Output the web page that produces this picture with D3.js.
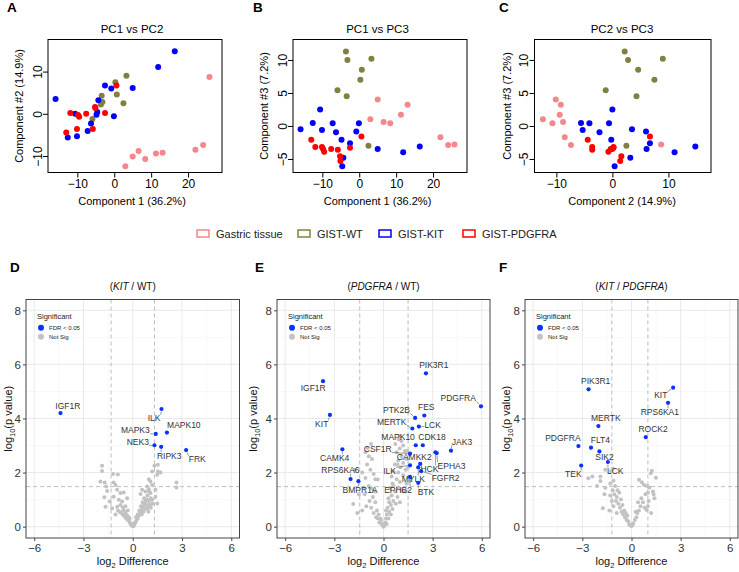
<!DOCTYPE html>
<html><head><meta charset="utf-8">
<script src="https://cdn.jsdelivr.net/npm/d3@7"></script>
<style>body{margin:0;background:#fff}svg{display:block}text{font-family:"Liberation Sans",Arial,Helvetica,sans-serif}</style>
</head><body><svg id="c" width="739" height="572"></svg>
<script>
// ================= DATA =================
// PCA: each sample = [PC1, PC2, PC3]
const pcGroups = ["Gastric tissue", "GIST-WT", "GIST-KIT", "GIST-PDGFRA"];
const pcColors = ["#F4878A", "#808040", "#0000FF", "#FF0000"];
const gastricPC = [[25.8,8.7,-2.8],[22.0,-8.5,-1.7],[24.1,-7.4,-2.9],[5.0,-10.1,4.0],[13.1,-9.2,3.2],[11.3,-9.4,1.7],[3.0,-12.4,1.0],[6.6,-8.8,0.6],[8.4,-10.7,0.4]];
const wtPC = [[-3.6,2.2,11.3],[-3.2,2.8,10.0],[3.3,9.0,10.2],[0.7,4.6,8.5],[0.3,7.5,7.0],[-5.9,-1.2,5.4],[-3.4,4.3,4.5],[2.5,2.5,-3.0]];
const kitPC = [[16.4,14.8,-3.1],[11.9,11.1,-4.0],[-15.9,3.5,-0.5],[5.0,6.1,-3.5],[-2.5,6.7,-2.6],[-0.8,6.0,-0.85],[-4.3,3.2,-4.8],[-10.6,0.0,2.5],[-4.6,0.4,-6.1],[-4.8,-0.2,-2.1],[-0.1,-0.6,0.4],[-6.3,-2.3,-0.95],[-7.2,-4.1,0.4],[-12.6,-5.6,0.45],[-10.1,-5.3,-0.6]];
const pdgfraPC = [[0.6,6.7,-1.6],[-13.0,-4.4,-2.1],[-11.9,0.2,-3.2],[-10.1,-3.6,-3.2],[-9.5,-0.7,-3.9],[-9.8,-0.3,-3.5],[-5.8,-3.6,-3.6],[-7.6,0.0,-3.5],[-5.2,1.6,-4.6],[-5.1,1.4,-5.3],[-2.5,0.2,-3.3]];
const pcVariance = [36.2, 14.9, 7.2];
const pcTicks = [[-10,0,10,20],[-10,0,10],[-5,0,5,10]];

// Volcano D: KIT / WT
const kitWtGenes = ["IGF1R","ILK","MAPK10","MAPK3","NEK3","RIPK3","FRK"];
const kitWtDiff = [-4.40,1.75,2.08,1.40,1.32,1.73,3.25];
const kitWtLogP = [4.20,4.35,3.48,3.43,3.01,2.95,2.83];
const kitWtLabelAt = [[-3.95,4.47],[1.30,4.01],[3.11,3.77],[0.16,3.56],[0.31,3.12],[2.22,2.63],[3.93,2.49]];
const kitWtNS = [[-1.87,2.25],[-1.87,2.06],[-1.2,1.95],[-0.91,1.93],[-1.97,1.67],[-1.71,1.63],[-1.62,1.48],[-1.16,1.63],[-1.05,1.54],[-1.56,1.32],[-0.95,1.36],[-0.75,1.24],[-1.73,1.09],[-1.16,1.11],[-0.55,1.26],[-0.85,0.99],[-1.4,0.93],[-1.66,0.74],[-1.26,0.68],[-0.95,0.74],[-0.75,0.8],[-0.65,0.93],[-0.34,1.05],
[-0.9,0.6],[-0.8,0.55],[-0.7,0.5],[-0.6,0.45],[-0.55,0.6],[-0.5,0.38],[-0.45,0.5],[-0.4,0.3],[-0.35,0.42],[-0.3,0.25],[-0.25,0.35],[-0.2,0.18],[-0.15,0.12],[-0.1,0.08],[-0.05,0.04],[-0.6,0.7],[-0.45,0.75],[-1.05,0.45],[-0.3,0.6],[-0.2,0.3],
[1.32,2.25],[1.53,2.29],[1.18,2.04],[1.53,2.04],[1.69,2.0],[1.49,1.92],[0.98,1.75],[1.08,1.67],[0.88,1.48],[1.18,1.54],[0.57,1.36],[0.77,1.3],[0.98,1.38],[0.47,1.21],[1.08,1.24],[1.38,1.36],[2.66,1.63],[2.66,1.45],[1.38,1.11],[1.18,0.99],[1.04,0.8],[1.49,0.86],[0.88,0.68],
[0.1,0.08],[0.15,0.15],[0.2,0.2],[0.25,0.28],[0.3,0.3],[0.35,0.4],[0.4,0.45],[0.45,0.5],[0.5,0.55],[0.55,0.62],[0.6,0.7],[0.65,0.75],[0.7,0.8],[0.75,0.9],[0.8,0.95],[0.85,1.0],[0.3,0.45],[0.4,0.6],[0.5,0.75],[0.6,0.9],[0.7,1.05],[0.55,0.45],[0.65,0.55],[0.8,0.65],[0.9,0.8],[1.0,0.95],[1.1,1.05],[0.2,0.35],[0.05,0.02],[0,0.01],[-0.02,0.05],[0.02,0.1],[0.9,1.15],[1.0,1.3],[0.95,0.55],[1.1,0.7],[1.2,0.85]];

// Volcano E: PDGFRA / WT
const pdgWtGenes = ["IGF1R","KIT","CAMK4","RPS6KA6","BMPR1A","PIK3R1","PDGFRA","PTK2B","FES","MERTK","LCK","MAPK10","CDK18","JAK3","CSF1R","HCK","EPHA3","CAMKK2","ILK","FGFR2","MYLK","EPHB2","BTK"];
const pdgWtDiff = [-3.69,-3.27,-2.51,-2.01,-1.53,2.59,5.95,1.93,2.49,1.76,2.16,1.97,2.40,4.12,1.62,3.17,3.25,2.24,1.62,2.30,2.12,1.62,2.12];
const pdgWtLogP = [5.38,4.13,2.86,1.76,1.68,5.67,4.45,4.02,4.11,3.63,3.70,3.01,3.01,2.81,2.70,2.75,2.72,2.32,2.27,2.05,2.19,1.84,1.62];
const pdgWtLabelAt = [[-4.29,5.13],[-3.77,3.80],[-2.98,2.54],[-2.63,2.08],[-1.43,1.36],[3.07,5.96],[4.56,4.76],[0.79,4.32],[2.61,4.41],[0.50,3.88],[3.0,3.77],[0.89,3.32],[2.96,3.32],[4.79,3.13],[-0.35,2.87],[2.80,2.14],[4.15,2.26],[1.88,2.56],[0.37,2.06],[3.79,1.80],[1.82,1.76],[0.89,1.36],[2.59,1.29]];
const pdgWtNS = [[-0.76,3.06],[-0.97,2.91],[-1.1,2.75],[-0.9,2.6],[-0.7,2.5],[-1.0,2.3],[-1.3,2.0],[-1.75,2.1],[-0.8,2.1],[-0.6,1.95],[-1.1,1.8],[-0.5,1.75],[-0.35,1.74],[-0.9,1.5],[-1.2,1.45],[-0.7,1.4],[-1.5,1.2],[-1.15,1.2],[-0.55,1.3],[-1.85,0.84],[-1.05,0.75],[-0.85,0.95],[-0.65,1.1],[-1.3,0.6],[-0.75,0.7],[-0.5,0.9],[-0.4,0.6],[-0.6,0.5],[-0.3,0.45],[-0.45,0.35],[-0.2,0.3],[-0.25,0.15],[-0.1,0.1],[-0.15,0.25],[-0.35,0.3],[-0.05,0.05],[-1.6,0.5],
[0.99,3.35],[0.93,3.22],[0.72,3.06],[1.1,3.17],[0.99,2.89],[1.2,3.0],[1.3,2.8],[0.8,2.75],[1.1,2.6],[1.4,2.5],[0.9,2.45],[1.2,2.35],[0.7,2.3],[1.05,2.2],[1.35,2.1],[0.6,2.05],[0.9,2.0],[1.2,1.9],[0.5,1.85],[0.8,1.75],[1.0,1.65],[1.4,1.6],[0.6,1.5],[0.9,1.45],[0.4,1.4],[0.7,1.3],[1.1,1.35],[0.5,1.15],[0.85,1.1],[0.3,1.05],[0.6,0.95],[0.45,0.8],[0.75,0.85],[0.25,0.7],[0.55,0.65],[0.35,0.55],[0.2,0.45],[0.45,0.45],[0.15,0.3],[0.3,0.3],[0.1,0.15],[0.2,0.1],[0.05,0.05],[0.0,0.0],[0.02,0.02],[-0.02,0.03],[1.6,1.7],[1.5,2.2],[1.3,1.3],[1.0,0.9],[0.15,0.6],[0.35,0.9],[0.55,1.6],[0.85,2.3],[1.45,2.8]];

// Volcano F: KIT / PDGFRA
const kitPdgGenes = ["PIK3R1","KIT","RPS6KA1","MERTK","ROCK2","PDGFRA","FLT4","SIK2","LCK","TEK"];
const kitPdgDiff = [-2.62,2.54,2.23,-2.02,0.87,-3.24,-2.47,-1.96,-1.44,-3.07];
const kitPdgLogP = [5.08,5.14,4.58,3.72,3.31,2.98,2.92,2.78,2.39,2.26];
const kitPdgLabelAt = [[-2.19,5.38],[1.79,4.86],[1.73,4.25],[-1.57,4.0],[1.32,3.61],[-4.19,3.27],[-1.90,3.21],[-1.65,2.56],[-0.99,2.06],[-3.55,1.94]];
const kitPdgNS = [[-2.64,1.79],[-2.39,1.85],[-1.9,1.85],[-1.9,1.69],[-1.6,2.1],[-1.25,2.05],[-1.15,2.15],[-2.1,1.5],[-1.6,1.44],[-1.3,1.6],[-1.15,1.35],[-1.0,1.5],[-1.65,1.2],[-1.3,1.15],[-1.05,1.2],[-0.9,1.1],[-1.2,0.95],[-0.95,0.95],[-0.8,0.85],[-1.75,0.68],[-1.35,0.6],[-1.1,0.75],[-0.7,0.7],[-0.6,0.55],[-0.9,0.5],[-0.5,0.45],[-0.4,0.35],[-0.3,0.25],[-0.2,0.2],[-0.15,0.1],[-0.1,0.05],[-0.65,1.0],[-0.55,0.8],[-0.45,0.6],[-0.35,0.5],[-0.25,0.4],[-0.75,1.25],[-1.1,1.7],[-0.85,1.35],
[1.24,2.07],[1.18,1.97],[1.49,1.81],[0.46,1.73],[0.63,1.64],[0.75,1.55],[0.95,1.5],[1.1,1.45],[1.31,1.3],[1.35,1.2],[1.4,1.05],[0.85,1.2],[1.0,1.25],[1.05,0.95],[0.93,0.62],[1.0,0.75],[0.7,0.9],[0.55,0.75],[0.45,0.6],[0.35,0.5],[0.3,0.35],[0.2,0.25],[0.1,0.12],[0.05,0.05],[0,0.02],[0.6,1.05],[0.8,0.7],[0.4,0.9],[1.2,0.5],[0.25,0.55]];

const volcXTicks = [-6,-3,0,3,6];
const volcYTicks = [0,2,4,6,8];

// ================= DRAW =================
const svg = d3.select("#c");
const FONT = '"Liberation Sans",Arial,Helvetica,sans-serif';

// ---- PCA panels ----
const pcDomains = [[-17.95,29.2],[-13.9,17.6],[-7.05,13.1]];
const pcaPanels = [
  {letter:"A", lx:7, dims:[0,1], x0:48, x1:222, titleX:132, title:"PC1 vs PC2", yTitleX:23},
  {letter:"B", lx:253, dims:[0,2], x0:293, x1:467, titleX:377.5, title:"PC1 vs PC3", yTitleX:268},
  {letter:"C", lx:499, dims:[1,2], x0:534.5, x1:711, titleX:622, title:"PC2 vs PC3", yTitleX:511}
];
const pcY0 = 39.5, pcY1 = 172.5;
const pcSets = [gastricPC, wtPC, kitPC, pdgfraPC];
const pcLabels = ["Component 1","Component #2","Component #3"];
const pcXLabels = ["Component 1","Component 2","Component 3"];

pcaPanels.forEach(p => {
  const [dx, dy] = p.dims;
  const x = d3.scaleLinear().domain(pcDomains[dx]).range([p.x0, p.x1]);
  const y = d3.scaleLinear().domain(pcDomains[dy]).range([pcY1, pcY0]);
  const g = svg.append("g");
  g.append("text").attr("x", p.lx).attr("y", 12).attr("font-size", 13.5).attr("font-weight", "bold").text(p.letter);
  g.append("text").attr("x", p.titleX).attr("y", 33).attr("text-anchor","middle").attr("font-size", 11.5).text(p.title);
  pcSets.forEach((set, gi) => {
    g.append("g").selectAll("circle").data(set).join("circle")
      .attr("cx", d => x(d[dx])).attr("cy", d => y(d[dy])).attr("r", 3)
      .attr("fill", pcColors[gi]);
  });
  g.append("rect").attr("x", p.x0).attr("y", pcY0).attr("width", p.x1 - p.x0).attr("height", pcY1 - pcY0)
    .attr("fill","none").attr("stroke","#000").attr("stroke-width",1);
  const ax = g.append("g").attr("transform", `translate(0,${pcY1})`)
    .call(d3.axisBottom(x).tickValues(pcTicks[dx]).tickFormat(d3.format("d")).tickSize(5).tickSizeOuter(0));
  ax.select(".domain").remove();
  ax.selectAll("line").attr("stroke","#000");
  ax.selectAll("text").attr("y", 15.5).attr("dy", 0).attr("font-size", 12).attr("font-family", FONT).attr("fill","#000");
  const ay = g.append("g").attr("transform", `translate(${p.x0},0)`)
    .call(d3.axisLeft(y).tickValues(pcTicks[dy]).tickFormat(d3.format("d")).tickSize(5).tickSizeOuter(0));
  ay.select(".domain").remove();
  ay.selectAll("line").attr("stroke","#000");
  ay.selectAll("text").attr("transform","rotate(-90)").attr("x", 0).attr("y", -6.5).attr("dy", 0)
    .attr("text-anchor","middle").attr("font-size", 12).attr("font-family", FONT).attr("fill","#000");
  g.append("text").attr("x", p.titleX).attr("y", 205).attr("text-anchor","middle").attr("font-size", 11)
    .text(`${pcXLabels[dx]} (${pcVariance[dx]}%)`);
  g.append("text").attr("transform", `translate(${p.yTitleX},${(pcY0+pcY1)/2}) rotate(-90)`).attr("text-anchor","middle").attr("font-size", 11)
    .text(`${pcLabels[dy]} (${pcVariance[dy]}%)`);
});

// ---- shared legend ----
const legX = [197, 298, 379, 463];
const lg = svg.append("g");
pcGroups.forEach((name, i) => {
  lg.append("rect").attr("x", legX[i]).attr("y", 230).attr("width", 12).attr("height", 7)
    .attr("fill","none").attr("stroke", pcColors[i]).attr("stroke-width", 1.5);
  lg.append("text").attr("x", legX[i] + 19).attr("y", 238).attr("font-size", 11).attr("fill","#222").text(name);
});

// ---- Volcano panels ----
const vY0 = 299.5, vY1 = 538;
const volcPanels = [
  {letter:"D", lx:10, x0:26, x1:239.5, title:[["(",0],["KIT",1],[" / WT)",0]], vlines:[-1.32,1.32], hline:1.48, yTitleX:11.5,
   genes:kitWtGenes, diff:kitWtDiff, logp:kitWtLogP, labAt:kitWtLabelAt, ns:kitWtNS},
  {letter:"E", lx:255, x0:277, x1:490, title:[["(",0],["PDGFRA",1],[" / WT)",0]], vlines:[-1.45,1.5], hline:1.48, yTitleX:256.5,
   genes:pdgWtGenes, diff:pdgWtDiff, logp:pdgWtLogP, labAt:pdgWtLabelAt, ns:pdgWtNS},
  {letter:"F", lx:499, x0:525, x1:738, title:[["(",0],["KIT",1],[" / ",0],["PDGFRA",1],[")",0]], vlines:[-1.2,1.0], hline:1.48, yTitleX:510,
   genes:kitPdgGenes, diff:kitPdgDiff, logp:kitPdgLogP, labAt:kitPdgLabelAt, ns:kitPdgNS}
];

volcPanels.forEach(p => {
  const x = d3.scaleLinear().domain([-6.5,6.5]).range([p.x0, p.x1]);
  const y = d3.scaleLinear().domain([-0.42,8.4]).range([vY1, vY0]);
  const g = svg.append("g");
  g.append("text").attr("x", p.lx).attr("y", 272).attr("font-size", 13.5).attr("font-weight","bold").text(p.letter);
  const tt = g.append("text").attr("x", (p.x0+p.x1)/2).attr("y", 290).attr("text-anchor","middle").attr("font-size", 10).attr("fill","#111");
  p.title.forEach(([s, it]) => tt.append("tspan").attr("font-style", it ? "italic" : "normal").text(s));
  const grid = g.append("g");
  [-4.5,-1.5,1.5,4.5].forEach(v => grid.append("line").attr("x1", x(v)).attr("x2", x(v)).attr("y1", vY0).attr("y2", vY1).attr("stroke","#f0f0f0").attr("stroke-width",0.5));
  [1,3,5,7].forEach(v => grid.append("line").attr("y1", y(v)).attr("y2", y(v)).attr("x1", p.x0).attr("x2", p.x1).attr("stroke","#f0f0f0").attr("stroke-width",0.5));
  volcXTicks.forEach(v => grid.append("line").attr("x1", x(v)).attr("x2", x(v)).attr("y1", vY0).attr("y2", vY1).attr("stroke","#e6e6e6").attr("stroke-width",0.9));
  volcYTicks.forEach(v => grid.append("line").attr("y1", y(v)).attr("y2", y(v)).attr("x1", p.x0).attr("x2", p.x1).attr("stroke","#e6e6e6").attr("stroke-width",0.9));
  p.vlines.forEach(v => g.append("line").attr("x1", x(v)).attr("x2", x(v)).attr("y1", vY0).attr("y2", vY1)
    .attr("stroke","#bdbdbd").attr("stroke-width",1).attr("stroke-dasharray","4,3"));
  g.append("line").attr("x1", p.x0).attr("x2", p.x1).attr("y1", y(p.hline)).attr("y2", y(p.hline))
    .attr("stroke","#bdbdbd").attr("stroke-width",1).attr("stroke-dasharray","4,3");
  g.append("g").selectAll("circle").data(p.ns).join("circle")
    .attr("cx", d => x(d[0])).attr("cy", d => y(d[1])).attr("r", 2).attr("fill","#c2c2c2");
  const sig = p.genes.map((gene, i) => ({gene, x:p.diff[i], y:p.logp[i], lx:p.labAt[i][0], ly:p.labAt[i][1]}));
  g.append("g").selectAll("circle").data(sig).join("circle")
    .attr("cx", d => x(d.x)).attr("cy", d => y(d.y)).attr("r", 2.1).attr("fill","#0a32ff");
  const segG = g.append("g"), labG = g.append("g");
  sig.forEach(d => {
    const t = labG.append("text").attr("x", x(d.lx)).attr("y", y(d.ly)).attr("dy","0.35em").attr("text-anchor","middle")
      .attr("font-size", 8.5).attr("fill","#333").text(d.gene);
    const b = t.node().getBBox();
    const px = x(d.x), py = y(d.y);
    const nx = Math.max(b.x, Math.min(px, b.x + b.width));
    const ny = Math.max(b.y + 1.5, Math.min(py, b.y + b.height - 1.5));
    const dist = Math.hypot(nx - px, ny - py);
    if (dist > 5) {
      segG.append("line").attr("x1", px + (nx-px)/dist*2.5).attr("y1", py + (ny-py)/dist*2.5)
        .attr("x2", nx).attr("y2", ny).attr("stroke","#555").attr("stroke-width",0.6);
    }
  });
  g.append("rect").attr("x", p.x0).attr("y", vY0).attr("width", p.x1-p.x0).attr("height", vY1-vY0)
    .attr("fill","none").attr("stroke","#444").attr("stroke-width",1);
  const ax = g.append("g").attr("transform", `translate(0,${vY1})`)
    .call(d3.axisBottom(x).tickValues(volcXTicks).tickSize(3).tickSizeOuter(0));
  ax.select(".domain").remove();
  ax.selectAll("line").attr("stroke","#444");
  ax.selectAll("text").attr("y", 13.5).attr("dy", 0).attr("font-size", 11.5).attr("font-family", FONT).attr("fill","#333");
  const ay = g.append("g").attr("transform", `translate(${p.x0},0)`)
    .call(d3.axisLeft(y).tickValues(volcYTicks).tickSize(3).tickSizeOuter(0));
  ay.select(".domain").remove();
  ay.selectAll("line").attr("stroke","#444");
  ay.selectAll("text").attr("x", -5).attr("font-size", 11.5).attr("font-family", FONT).attr("fill","#333");
  const xt = g.append("text").attr("x", (p.x0+p.x1)/2).attr("y", 565).attr("text-anchor","middle").attr("font-size", 11).attr("fill","#111");
  xt.append("tspan").text("log");
  xt.append("tspan").attr("font-size", 7.5).attr("dy", 3).text("2");
  xt.append("tspan").attr("dy", -3).text(" Difference");
  const yt = g.append("text").attr("transform", `translate(${p.yTitleX},${(vY0+vY1)/2}) rotate(-90)`).attr("text-anchor","middle").attr("font-size", 11).attr("fill","#111");
  yt.append("tspan").text("log");
  yt.append("tspan").attr("font-size", 7.5).attr("dy", 3).text("10");
  yt.append("tspan").attr("dy", -3).text("(p value)");
  const lx = p.x0;
  g.append("text").attr("x", lx + 11).attr("y", 319).attr("font-size", 7.5).attr("fill","#222").text("Significant");
  g.append("circle").attr("cx", lx + 15).attr("cy", 327.7).attr("r", 3).attr("fill","#0a32ff");
  g.append("text").attr("x", lx + 23).attr("y", 329.8).attr("font-size", 6).attr("fill","#222").text("FDR < 0.05");
  g.append("circle").attr("cx", lx + 15).attr("cy", 336.7).attr("r", 3).attr("fill","#c2c2c2");
  g.append("text").attr("x", lx + 23).attr("y", 338.8).attr("font-size", 6).attr("fill","#222").text("Not Sig");
});
</script>
</body></html>
